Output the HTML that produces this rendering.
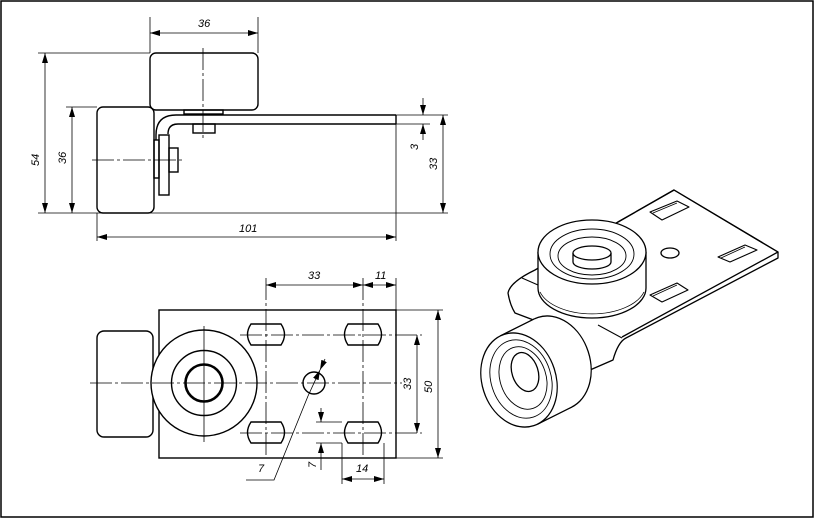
<!DOCTYPE html>
<html><head><style>body{margin:0;background:#fff}svg{display:block}text{font-family:"Liberation Sans",sans-serif;font-style:italic;font-size:11px;fill:#000}</style></head><body>
<svg width="815" height="519" viewBox="0 0 815 519" xmlns="http://www.w3.org/2000/svg">
<defs><marker id="a" viewBox="0 0 10 6" refX="10" refY="3" markerWidth="10" markerHeight="6" orient="auto-start-reverse" markerUnits="userSpaceOnUse"><path d="M0,0 L10,3 L0,6z" fill="#000"/></marker></defs>
<rect x="1" y="1" width="812" height="516" fill="none" stroke="#000" stroke-width="1.5"/>
<g fill="none" stroke="#000" stroke-width="1.4">
<rect x="150" y="53" width="108" height="57" rx="6"/>
<rect x="97" y="107" width="57" height="106" rx="6"/>
<path d="M396,115 H176 Q156,115 156,135 V140 M396,124 H178 Q168,124 168,134"/>
<line x1="396" y1="115" x2="396" y2="124"/>
<rect x="159" y="135" width="10" height="60"/>
<rect x="154" y="140" width="5" height="38"/>
<rect x="169" y="148" width="9" height="24"/>
<rect x="184" y="110" width="39" height="4"/>
<rect x="193" y="124" width="22" height="9"/>
</g>
<g stroke="#000" stroke-width="0.8" fill="none">
<line x1="203" y1="48" x2="203" y2="140" stroke-dasharray="22,3,3,3"/>
<line x1="92" y1="160" x2="183" y2="160" stroke-dasharray="22,3,3,3"/>
<line x1="150" y1="17" x2="150" y2="53"/><line x1="258" y1="17" x2="258" y2="53"/>
<line x1="150" y1="33" x2="258" y2="33" marker-start="url(#a)" marker-end="url(#a)"/>
<line x1="38" y1="53" x2="150" y2="53"/><line x1="38" y1="213" x2="448" y2="213"/>
<line x1="45" y1="53" x2="45" y2="213" marker-start="url(#a)" marker-end="url(#a)"/>
<line x1="66" y1="107" x2="97" y2="107"/>
<line x1="72" y1="107" x2="72" y2="213" marker-start="url(#a)" marker-end="url(#a)"/>
<line x1="97" y1="213" x2="97" y2="241"/><line x1="396" y1="124" x2="396" y2="241"/>
<line x1="97" y1="237" x2="396" y2="237" marker-start="url(#a)" marker-end="url(#a)"/>
<line x1="396" y1="115" x2="448" y2="115"/><line x1="396" y1="124" x2="430" y2="124"/>
<line x1="443" y1="115" x2="443" y2="213" marker-start="url(#a)" marker-end="url(#a)"/>
<line x1="423" y1="98" x2="423" y2="115" marker-end="url(#a)"/>
<line x1="423" y1="140" x2="423" y2="124" marker-end="url(#a)"/>
</g>
<text x="198" y="27">36</text>
<text x="239" y="232">101</text>
<text transform="translate(39,166) rotate(-90)">54</text>
<text transform="translate(66,164) rotate(-90)">36</text>
<text transform="translate(437,170) rotate(-90)">33</text>
<text transform="translate(418,150) rotate(-90)">3</text>
<g fill="none" stroke="#000" stroke-width="1.4">
<rect x="159" y="310" width="237" height="148"/>
<rect x="97" y="331" width="56" height="106" rx="7"/>
<circle cx="204" cy="383" r="53" fill="#fff"/>
<circle cx="204" cy="383" r="32.5"/>
<circle cx="204" cy="383" r="18.5" stroke-width="2.6"/>
<circle cx="314" cy="383" r="11"/>
<g id="s"><path d="M251,324 H281 Q288,334.5 281,345 H251 Q244,334.5 251,324z"/></g>
<use href="#s" transform="translate(0,98)"/>
<use href="#s" transform="translate(97,0)"/>
<use href="#s" transform="translate(97,98)"/>
</g>
<g stroke="#000" stroke-width="0.8" fill="none">
<line x1="90" y1="383" x2="402" y2="383" stroke-dasharray="22,3,3,3"/>
<line x1="204" y1="326" x2="204" y2="442"/>
<line x1="266" y1="278" x2="266" y2="455" stroke-dasharray="22,3,3,3"/>
<line x1="363" y1="278" x2="363" y2="455" stroke-dasharray="22,3,3,3"/>
<line x1="240" y1="335" x2="422" y2="335" stroke-dasharray="22,3,3,3"/>
<line x1="240" y1="433" x2="422" y2="433" stroke-dasharray="22,3,3,3"/>
<line x1="396" y1="278" x2="396" y2="310"/>
<line x1="266" y1="285" x2="363" y2="285" marker-start="url(#a)" marker-end="url(#a)"/>
<line x1="363" y1="285" x2="396" y2="285" marker-start="url(#a)" marker-end="url(#a)"/>
<line x1="396" y1="310" x2="443" y2="310"/><line x1="396" y1="458" x2="443" y2="458"/>
<line x1="417" y1="335" x2="417" y2="433" marker-start="url(#a)" marker-end="url(#a)"/>
<line x1="438" y1="310" x2="438" y2="458" marker-start="url(#a)" marker-end="url(#a)"/>
<polyline points="246,480 274,480 308,396"/>
<line x1="308" y1="396" x2="320" y2="370" marker-end="url(#a)"/>
<line x1="320" y1="370" x2="325" y2="359" marker-start="url(#a)"/>
<line x1="316" y1="422" x2="342" y2="422"/><line x1="316" y1="443" x2="342" y2="443"/>
<line x1="321" y1="408" x2="321" y2="422" marker-end="url(#a)"/>
<line x1="321" y1="470" x2="321" y2="443" marker-end="url(#a)"/>
<line x1="342" y1="443" x2="342" y2="484"/><line x1="384" y1="443" x2="384" y2="484"/>
<line x1="342" y1="479" x2="384" y2="479" marker-start="url(#a)" marker-end="url(#a)"/>
</g>
<text x="308" y="279">33</text>
<text x="375" y="279">11</text>
<text transform="translate(411,390) rotate(-90)">33</text>
<text transform="translate(432,393) rotate(-90)">50</text>
<text x="258" y="472">7</text>
<text transform="translate(316,468) rotate(-90)">7</text>
<text x="356" y="472">14</text>
<!-- isometric -->
<g fill="#fff" stroke="#000" stroke-width="1.3" stroke-linejoin="round">
<path d="M535,270 Q510,282 508,293 Q510,305 515,313 L560,330 L590,370 L613,360 Q618,342 626,338 L778,258 L778,252 L674,190 L618,222 Z"/>
<path d="M618,222 L674,190 L778,252 L622,337" fill="none"/>
<path d="M522,278 L538,285 M598,325 L622,338" fill="none" stroke-width="1"/>
<path d="M650,212 L677,201 L689,207 L662,220Z M718,257 L745,245 L757,250 L730,262Z M650,295 L677,283 L688,290 L662,302Z" stroke-width="1.1"/>
<path d="M653,213 L677,203 M721,258 L745,247 M653,296 L677,285" fill="none" stroke-width="0.8"/>
<ellipse cx="670" cy="253" rx="9" ry="5"/>
<path d="M538,252 V288 A54,30 0 0 0 646,288 V252" />
<path d="M540,292 A54,30 0 0 0 644,292" fill="none" stroke-width="0.8"/>
<ellipse cx="592" cy="252" rx="54" ry="32"/>
<ellipse cx="592" cy="254" rx="42" ry="25" fill="none" stroke-width="0.9"/>
<ellipse cx="592" cy="256" rx="34" ry="19" fill="none" stroke-width="0.9"/>
<path d="M573,253 V262 A19,7 0 0 0 611,262 V253" />
<ellipse cx="592" cy="253" rx="19" ry="7"/>
<!-- lower wheel -->
<ellipse cx="553" cy="363" rx="37" ry="48" transform="rotate(-18 553 363)"/>
<polygon points="500.2,335.9 534.2,318.9 571.8,407.1 537.8,424.1" stroke="none"/>
<path d="M500.2,335.9 L534.2,318.9 M537.8,424.1 L571.8,407.1" fill="none"/>
<ellipse cx="519" cy="380" rx="37" ry="48" transform="rotate(-18 519 380)"/>
<ellipse cx="521" cy="379" rx="30" ry="40" transform="rotate(-18 521 379)" fill="none" stroke-width="0.9"/>
<ellipse cx="523" cy="378" rx="23" ry="32" transform="rotate(-18 523 378)" fill="none" stroke-width="0.9"/>
<ellipse cx="525" cy="372" rx="13" ry="20" transform="rotate(-18 525 372)"/>
</g>
</svg>
</body></html>
